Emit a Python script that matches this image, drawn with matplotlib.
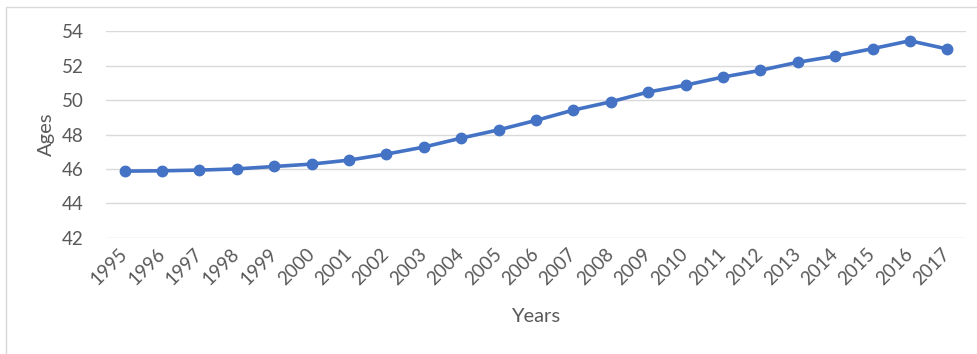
import matplotlib
matplotlib.use("Agg")
import matplotlib.pyplot as plt
from matplotlib.patches import Rectangle

years = [str(y) for y in range(1995, 2018)]
ages = [45.87, 45.89, 45.93, 46.00, 46.14, 46.28, 46.51, 46.86, 47.27, 47.79,
        48.27, 48.82, 49.42, 49.90, 50.47, 50.87, 51.34, 51.73, 52.20, 52.56,
        52.99, 53.45, 52.97]
yticks = [42, 44, 46, 48, 50, 52, 54]

plt.rcParams['font.family'] = ['Lato', 'DejaVu Sans']
grey = "#595959"

fig = plt.figure(figsize=(9.78, 3.54), dpi=100)
ax = fig.add_axes([106 / 978, 1 - 237.7 / 354, 860 / 978, 206.4 / 354])

x = list(range(len(years)))
ax.plot(x, ages, color="#4472C4", lw=2.6, marker="o", markersize=7.5, zorder=3)

ax.set_xlim(-0.5, len(years) - 0.5)
ax.set_ylim(42, 54)
ax.set_yticks(yticks)
ax.set_xticks(x)
ax.set_xticklabels(years, rotation=45, ha="right", va="center",
                   rotation_mode="anchor")
ax.tick_params(axis="both", length=0, labelsize=13.5, colors=grey)
ax.tick_params(axis="y", pad=16)
ax.tick_params(axis="x", pad=10)
ax.grid(axis="y", color="#D9D9D9", lw=1)
ax.set_axisbelow(True)
for s in ax.spines.values():
    s.set_visible(False)

ax.set_ylabel("Ages", fontsize=14.5, color=grey, labelpad=5)
ax.set_xlabel("Years", fontsize=14.5, color=grey, labelpad=14)

# outer chart border (cut off at right and bottom)
fig.patches.append(Rectangle((6 / 978, -0.1), 1.1, 1.1 - 7 / 354,
                             transform=fig.transFigure, fill=False,
                             edgecolor="#D9D9D9", lw=1))

fig.savefig("out.png", dpi=100)
